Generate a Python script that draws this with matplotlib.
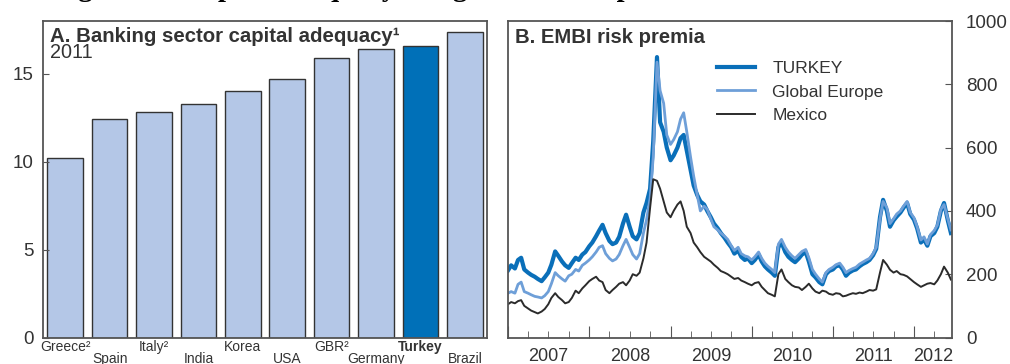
import matplotlib.pyplot as plt
import matplotlib.dates as mdates
import pandas as pd

plt.rcParams['font.family'] = ['Liberation Sans', 'DejaVu Sans']

# Panel A: capital adequacy ratios, 2011
countries = ["Greece²", "Spain", "Italy²", "India", "Korea", "USA", "GBR²", "Germany", "Turkey", "Brazil"]
capital_adequacy = [10.2, 12.4, 12.8, 13.3, 14.0, 14.7, 15.9, 16.4, 16.6, 17.4]
highlight = "Turkey"

# Panel B: EMBI spreads, basis points, twice a month from Jan 2007
turkey = [
    212, 228, 218, 245, 252, 215, 205, 198, 192, 185, 178, 190,
    205, 230, 272, 258, 240, 228, 220, 235, 252, 245, 262, 270,
    288, 300, 320, 338, 356, 330, 305, 295, 300, 318, 360, 388,
    350, 320, 310, 330, 395, 425, 470, 620, 886, 680, 650, 600,
    560, 575, 600, 630, 640, 590, 530, 480, 450, 430, 420, 400,
    380, 360, 345, 330, 315, 300, 285, 265, 275, 255, 245, 250,
    235, 245, 262, 240, 225, 215, 205, 195, 285, 300, 270, 255,
    245, 238, 250, 262, 270, 240, 200, 190, 175, 168, 200, 210,
    215, 225, 228, 215, 195, 205, 212, 215, 225, 232, 238, 245,
    260, 280, 380, 435, 400, 350, 370, 382, 395, 410, 425, 390,
    372, 345, 300, 310, 290, 320, 330, 350, 400, 425, 370, 330,
]
global_europe = [
    140, 145, 140, 168, 175, 145, 140, 135, 130, 128, 125, 132,
    145, 170, 205, 195, 185, 178, 195, 200, 215, 210, 228, 235,
    245, 255, 270, 285, 290, 265, 250, 242, 248, 262, 290, 310,
    285, 262, 248, 265, 330, 372, 440, 570, 870, 780, 740, 640,
    610, 625, 650, 690, 710, 650, 570, 510, 450, 400, 415, 405,
    375, 350, 340, 330, 320, 310, 290, 275, 285, 265, 258, 255,
    245, 255, 270, 250, 235, 225, 215, 205, 295, 310, 285, 270,
    258, 250, 262, 272, 278, 252, 215, 200, 185, 175, 205, 215,
    222, 230, 235, 222, 205, 212, 218, 222, 232, 238, 245, 250,
    265, 285, 375, 430, 410, 360, 375, 390, 400, 415, 430, 395,
    378, 350, 308, 318, 295, 325, 338, 355, 405, 420, 375, 340,
]
mexico = [
    105, 112, 108, 115, 118, 100, 92, 85, 80, 76, 82, 90,
    105, 125, 140, 128, 118, 108, 112, 125, 148, 140, 155, 165,
    178, 185, 192, 180, 175, 150, 140, 150, 160, 170, 175, 165,
    180, 200, 195, 205, 250, 300, 410, 500, 495, 470, 430, 395,
    380, 400, 420, 430, 400, 350, 330, 300, 285, 270, 255, 248,
    240, 230, 220, 210, 205, 200, 192, 185, 188, 180, 175, 170,
    165, 172, 175, 160, 150, 140, 135, 130, 200, 215, 185, 175,
    165, 160, 158, 150, 160, 170, 155, 145, 140, 148, 145, 138,
    135, 140, 138, 130, 132, 136, 140, 138, 142, 140, 145, 150,
    148, 152, 205, 245, 230, 214, 205, 210, 200, 198, 193, 185,
    175, 168, 160, 165, 170, 172, 168, 180, 200, 224, 205, 183,
]
dates = pd.date_range("2007-01-01", periods=len(turkey), freq="SMS")
years = [2007, 2008, 2009, 2010, 2011, 2012]

text_col = "#333333"
spine_col = "#555555"
bar_light = "#b4c7e7"
bar_dark = "#0070b8"

fig = plt.figure(figsize=(10.1, 3.64), dpi=100)

fig.text(0.052, 1.011, "Figure 17. Capital adequacy is high while risk premia have risen",
         family="Liberation Serif", fontweight="bold", fontsize=20.5, va="baseline", color="black")

# --- Panel A ---
ax1 = fig.add_axes([0.0426, 0.0728, 0.4396, 0.8695])
colors = [bar_dark if c == highlight else bar_light for c in countries]
ax1.bar(range(len(countries)), capital_adequacy, width=0.8, color=colors,
        edgecolor="#333333", linewidth=1)
ax1.set_xlim(-0.5, len(countries) - 0.5)
ax1.set_ylim(0, 18)
ax1.set_yticks([0, 5, 10, 15])
ax1.tick_params(axis="y", direction="in", length=4, labelsize=13.5,
                labelcolor=text_col, color=spine_col, pad=7)
ax1.set_xticks([])
for i, name in enumerate(countries):
    off = -13 if i % 2 == 0 else -25
    ax1.annotate(name, xy=(i, 0), xycoords=("data", "axes fraction"),
                 xytext=(0, off), textcoords="offset pixels",
                 ha="center", va="baseline", fontsize=10, color=text_col,
                 fontweight="bold" if name == highlight else "normal")
ax1.text(0.016, 0.933, "A. Banking sector capital adequacy¹", transform=ax1.transAxes,
         fontsize=14.7, fontweight="bold", color=text_col, va="baseline")
ax1.text(0.016, 0.883, "2011", transform=ax1.transAxes,
         fontsize=14.3, color=text_col, va="baseline")

# --- Panel B ---
ax2 = fig.add_axes([0.503, 0.0728, 0.4396, 0.8695])
ax2.plot(dates, turkey, color="#0a6fb9", lw=3.0, label="TURKEY")
ax2.plot(dates, global_europe, color="#6e9fd8", lw=2.0, label="Global Europe")
ax2.plot(dates, mexico, color="#2b2b2b", lw=1.4, label="Mexico")
ax2.set_xlim(pd.Timestamp("2007-01-01"), pd.Timestamp("2012-06-20"))
ax2.set_ylim(0, 1000)
ax2.yaxis.tick_right()
ax2.set_yticks(range(0, 1001, 200))
ax2.tick_params(axis="y", direction="in", length=5, labelsize=13.5,
                labelcolor=text_col, color=spine_col, pad=10)
ax2.xaxis.set_major_locator(mdates.YearLocator())
ax2.xaxis.set_minor_locator(mdates.MonthLocator(bymonth=[4, 7, 10]))
ax2.tick_params(axis="x", which="major", direction="in", length=9, color=spine_col,
                labelbottom=False)
ax2.tick_params(axis="x", which="minor", direction="in", length=5, color=spine_col)
x_end = ax2.get_xlim()[1]
for yr in years:
    a = mdates.date2num(pd.Timestamp(f"{yr}-01-01"))
    b = min(mdates.date2num(pd.Timestamp(f"{yr + 1}-01-01")), x_end)
    ax2.annotate(str(yr), xy=((a + b) / 2, 0), xycoords=("data", "axes fraction"),
                 xytext=(0, -23), textcoords="offset pixels",
                 ha="center", va="baseline", fontsize=13, color=text_col)
ax2.text(0.016, 0.930, "B. EMBI risk premia", transform=ax2.transAxes,
         fontsize=14.6, fontweight="bold", color=text_col, va="baseline")
ax2.legend(loc="upper left", bbox_to_anchor=(0.47, 0.875), frameon=False,
           fontsize=12.5, handlelength=2.2, labelspacing=0.5, handletextpad=1.0,
           borderaxespad=0, borderpad=0, labelcolor=text_col)

for ax in (ax1, ax2):
    for s in ax.spines.values():
        s.set_color(spine_col)
        s.set_linewidth(1.3)

fig.savefig("out.png", dpi=100)
